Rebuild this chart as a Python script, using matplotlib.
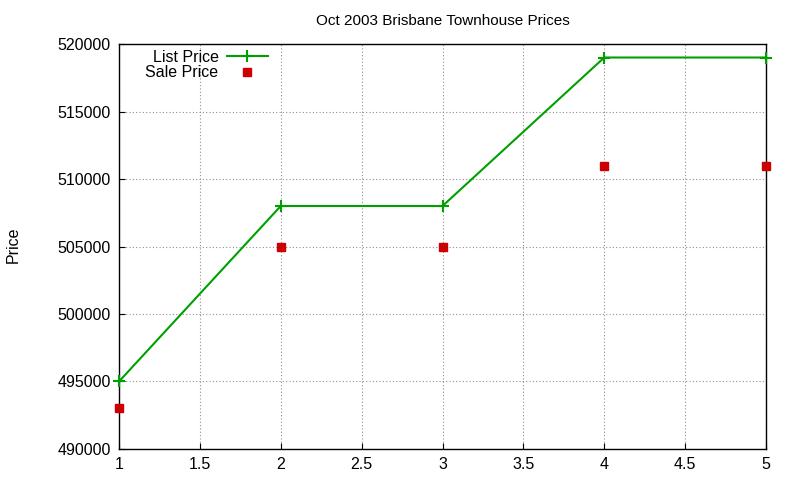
import matplotlib
matplotlib.use("Agg")
import matplotlib.pyplot as plt

months = [1, 2, 3, 4, 5]
list_price = [495000, 508000, 508000, 519000, 519000]
sale_price = [493000, 505000, 505000, 511000, 511000]

x_ticks = [1, 1.5, 2, 2.5, 3, 3.5, 4, 4.5, 5]
x_labels = ["1", "1.5", "2", "2.5", "3", "3.5", "4", "4.5", "5"]
y_ticks = [490000, 495000, 500000, 505000, 510000, 515000, 520000]

plt.rcParams["font.family"] = ["Liberation Sans", "DejaVu Sans"]

fig = plt.figure(figsize=(8, 4.8), dpi=100)
ax = fig.add_axes([0.14875, 0.0646, 0.80875, 0.8437])

ax.plot(months, list_price, color="#00a000", linewidth=1.5, marker="+",
        markersize=8, markeredgewidth=1.5, label="List Price", clip_on=False,
        zorder=3)
ax.plot(months, sale_price, linestyle="none", color="#cc0000", marker="s",
        markersize=6, label="Sale Price", clip_on=False, zorder=3)

ax.set_xlim(1, 5)
ax.set_ylim(490000, 520000)
ax.set_xticks(x_ticks)
ax.set_xticklabels(x_labels)
ax.set_yticks(y_ticks)
ax.set_yticklabels([str(v) for v in y_ticks])
ax.tick_params(direction="in", length=4, labelsize=11.5, pad=6)
ax.grid(True, color="#909090", linestyle=(0, (1, 2)), linewidth=0.8)
for side in ax.spines.values():
    side.set_linewidth(1.0)

ax.set_title("Oct 2003 Brisbane Townhouse Prices", fontsize=11, pad=14)
fig.text(0.016, 0.49, "Price", rotation=90, fontsize=11.5, va="center", ha="center")

ax.legend(loc="upper left", bbox_to_anchor=(0.026, 1.01), frameon=False,
          markerfirst=False, fontsize=11.5, handlelength=2.6,
          labelspacing=0.05, borderaxespad=0.2, handletextpad=0.5)
leg = ax.get_legend()
for t in leg.get_texts():
    t.set_ha("right")

fig.savefig("out.png", dpi=100)
